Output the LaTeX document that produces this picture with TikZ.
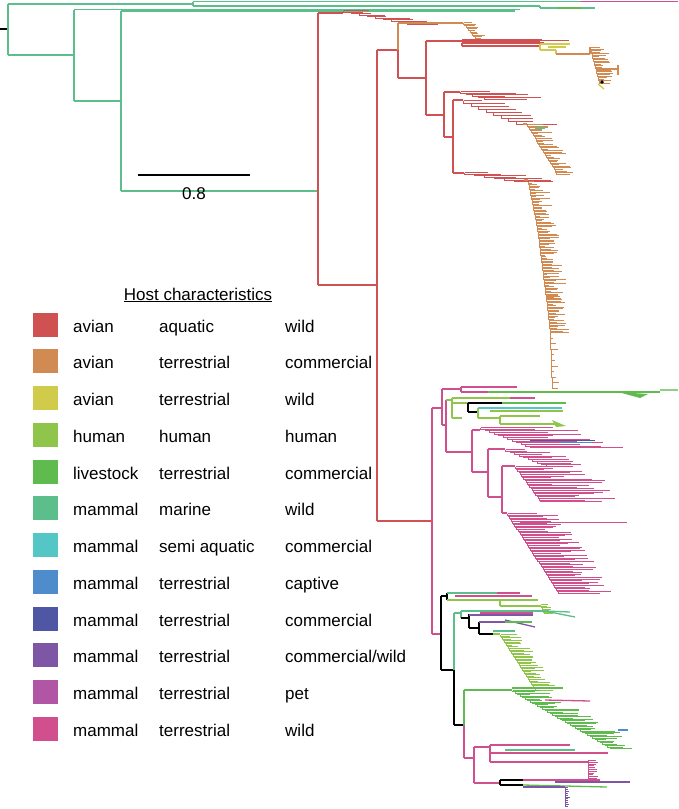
\documentclass[tikz,border=0pt]{standalone}
\usepackage{fontspec}
\newfontfamily\lgfont{Liberation Sans}
\definecolor{aaw}{HTML}{CF5151}
\definecolor{atc}{HTML}{D18A52}
\definecolor{atw}{HTML}{D1CB4C}
\definecolor{hum}{HTML}{90C54C}
\definecolor{lst}{HTML}{60BB4E}
\definecolor{mmw}{HTML}{5CBE8B}
\definecolor{msa}{HTML}{55C6C6}
\definecolor{mtc}{HTML}{4F8CCB}
\definecolor{mtm}{HTML}{4F56A4}
\definecolor{mtcw}{HTML}{7F55A6}
\definecolor{mtp}{HTML}{B155A5}
\definecolor{mtw}{HTML}{D14F8D}
\tikzset{
  br/.style={line width=1.3pt},
  cb/.style={line width=1pt},
  lt/.style={anchor=base west, inner sep=0pt, font={\lgfont\fontsize{17}{20}\selectfont}},
  sqbox/.style={minimum width=25pt, minimum height=24pt, inner sep=0pt, draw=none}
}
% caterpillar: x y steps dx dy minleaf maxleaf colour (snapped to pixel centres)
\newcommand\tcat[8]{%
  \foreach \kk in {1,...,#3}{%
    \pgfmathsetmacro\cpx{round(#1+(\kk-1)*#4)+0.5}%
    \pgfmathsetmacro\cnx{round(#1+\kk*#4)+0.5}%
    \pgfmathsetmacro\cpy{round(#2+(\kk-1)*#5)+0.5}%
    \pgfmathsetmacro\cny{round(#2+\kk*#5)+0.5}%
    \pgfmathsetmacro\clf{round(#6+(#7-#6)*rnd)}%
    \draw[cb,#8] (\cpx,\cpy) -- ++(\clf,0);
    \draw[cb,#8] (\cpx,\cpy) -- (\cpx,\cny) -- (\cnx,\cny);
  }%
  \pgfmathsetmacro\cpx{round(#1+#3*#4)+0.5}%
  \pgfmathsetmacro\cpy{round(#2+#3*#5)+0.5}%
  \pgfmathsetmacro\clf{round(#6+(#7-#6)*rnd)}%
  \draw[cb,#8] (\cpx,\cpy) -- ++(\clf,0);
}
% comb: x ytop ybot n minlen maxlen colour
\newcommand\tcomb[7]{%
  \draw[cb,#7] (#1,#2) -- (#1,#3);
  \foreach \kk in {0,...,#4}{%
    \pgfmathsetmacro\cpy{round(#2+(#3-#2)*\kk/#4)+0.5}%
    \pgfmathsetmacro\clf{round(#5+(#6-#5)*rnd)}%
    \draw[cb,#7] (#1,\cpy) -- ++(\clf,0);
  }%
}
\def\cwtext{commercial/wild}
\begin{document}
\begin{tikzpicture}[x=1pt,y=-1pt]
\useasboundingbox (0,0) rectangle (678,809);
\pgfmathsetseed{7}
% ---------- root and outgroups ----------
\draw[br,black] (0,29)--(8,29);
\draw[br,mmw] (8,4)--(8,55);
\draw[br,mmw] (8,4)--(193,4);
\draw[br,mmw] (193,1.5)--(193,6);
\draw[br,mmw] (193,1.5)--(580,1.5);
\draw[br,mtw!80!mtp] (580,1.5)--(678,1.5);
\draw[br,mmw] (193,6)--(540,6);
\draw[br,mmw] (540,6)--(540,8);
\draw[br,mmw] (540,8)--(595,8);
\draw[br,lst] (558,8)--(582,8);
\draw[br,mmw] (8,55)--(74,55);
\draw[br,mmw] (74,9.5)--(74,101);
\draw[br,mmw] (74,9.5)--(520,9.5);
\draw[br,mmw] (74,101)--(121,101);
\draw[br,mmw] (121,11)--(121,191);
\draw[br,mmw] (121,11)--(515,11);
\draw[br,mmw] (121,191)--(318,191);
% ---------- avian part ----------
\draw[br,aaw] (318,13)--(318,285);
\draw[br,aaw] (318,13)--(343,13);
\tcat{343}{10}{9}{8}{1.5}{8}{28}{aaw}
\draw[br,aaw] (318,285)--(377,285);
\draw[br,aaw] (377,50)--(377,521);
\draw[br,aaw] (377,50)--(398,50);
\draw[br,atc] (398,23)--(398,50);
\draw[br,aaw] (398,50)--(398,78);
\draw[br,atc] (398,23)--(463,23);
\tcat{463}{22}{10}{1.3}{1.6}{3}{16}{atc}
\draw[br,aaw] (398,78)--(426,78);
\draw[br,aaw] (426,41)--(426,115);
\draw[br,aaw] (426,41)--(462,41);
\tcomb{462}{39}{43}{4}{70}{115}{aaw}
\draw[br,aaw] (462,43)--(462,46);
\draw[br,aaw] (462,46)--(540,46);
\draw[br,atw] (540,44)--(540,50);
\draw[br,atw] (540,44)--(570,44);
\draw[br,atw] (540,50)--(556,50);
\draw[br,atw] (548,47)--(566,47);
\draw[br,atw] (556,50)--(556,54);
\draw[br,atc] (556,54)--(590,54);
\draw[br,atc] (590,47)--(590,54);
\tcat{590}{47}{24}{0.4}{1.5}{3}{16}{atc}
\draw[br,atc] (596,69)--(618,69);
\draw[br,atc] (618,65)--(618,75);
\fill[black] (602,82) circle (1.8);
\draw[br,atw] (598,84)--(604,89);
\draw[br,aaw] (426,115)--(444,115);
\draw[br,aaw] (444,92)--(444,137);
\draw[br,aaw] (444,92)--(460,92);
\tcat{460}{91}{5}{6}{1.5}{20}{57}{aaw}
\draw[br,aaw] (444,137)--(453,137);
\draw[br,aaw] (453,100)--(453,173);
\draw[br,aaw] (453,100)--(463,100);
\tcat{463}{100}{8}{7.5}{3}{15}{35}{aaw}
\draw[br,atc] (523,124)--(527,124);
\tcat{527}{124}{32}{0.95}{1.55}{4}{20}{atc}
\draw[br,mmw] (535,128)--(545,128);
\draw[br,aaw] (453,173)--(464,173);
\tcat{464}{172}{6}{10}{1.5}{20}{45}{aaw}
\draw[br,atc] (524,180)--(528,180);
\tcat{528}{181}{30}{0.3}{1.5}{3}{20}{atc}
\tcat{537}{226}{47}{0.19}{1.5}{3}{22}{atc}
\tcat{546}{296}{24}{0.17}{1.5}{4}{18}{atc}
\tcat{550}{332}{10}{0.2}{5.6}{1}{6}{atc}
% ---------- mammal part ----------
\draw[br,aaw] (377,521)--(432,521);
\draw[br,mtw] (432,408)--(432,634);
\draw[br,mtw] (432,408)--(442,408);
\draw[br,mtw] (442,389)--(442,425);
\draw[br,mtw] (442,389)--(461,389);
\draw[br,mtw] (461,387)--(461,392);
\draw[br,mtw] (461,387)--(517,387);
\draw[br,mtw] (461,392)--(488,392);
\draw[br,lst] (488,392)--(660,392);
\draw[br,lst!70!white] (660,390)--(678,390);
\fill[lst] (618,392)--(648,394)--(640,398)--cycle;
\draw[br,mtw] (442,425)--(446,425);
\draw[br,mtw] (446,400)--(446,452);
\draw[br,hum] (446,400)--(452,400);
\draw[br,hum] (452,398)--(452,418);
\draw[br,hum] (452,398)--(510,398);
\draw[br,mtw] (510,398)--(535,398);
\draw[br,hum] (452,403)--(468,403);
\draw[br,black] (468,403)--(468,412);
\draw[br,black] (468,403)--(502,403);
\draw[br,lst] (502,403)--(566,403);
\draw[br,black] (468,412)--(478,412);
\draw[br,hum] (478,408)--(478,418);
\draw[br,msa] (478,408)--(562,408);
\draw[br,hum] (490,411)--(563,411);
\draw[br,hum] (478,418)--(500,418);
\draw[br,hum] (500,416)--(500,424);
\draw[br,hum] (500,416)--(540,416);
\draw[br,hum] (500,424)--(560,424);
\fill[hum] (552,420)--(566,426)--(556,427)--cycle;
\draw[br,hum] (452,418)--(462,418);
% pink mass
\draw[br,mtw] (446,452)--(472,452);
\draw[br,mtw] (472,430)--(472,472);
\draw[br,mtw] (472,430)--(480,430);
\tcat{480}{427}{12}{4.5}{1.7}{40}{90}{mtw}
\draw[cb,mtm] (530,440.5)--(595,440.5);
\draw[cb,mtc] (560,442.5)--(592,442.5);
\draw[br,mtw] (472,472)--(488,472);
\draw[br,mtw] (488,449)--(488,497);
\draw[br,mtw] (488,449)--(505,449);
\tcat{505}{449}{10}{4.5}{1.7}{15}{45}{mtw}
\draw[br,mtw] (488,497)--(502,497);
\draw[br,mtw] (502,466)--(502,513);
\draw[br,mtw] (502,466)--(515,466);
\tcat{515}{466}{22}{1.2}{1.6}{20}{80}{mtw}
\draw[br,mtw] (502,513)--(507,513);
\tcat{507}{513}{50}{1.05}{1.6}{25}{55}{mtw}
\draw[cb,mtw] (520,522.5)--(627,522.5);
% lower mammal part
\draw[br,mtw] (432,634)--(441,634);
\draw[br,black] (441,596)--(441,670);
\draw[br,black] (441,596)--(447,596);
\draw[br,black] (447,593)--(447,600);
\draw[br,mmw] (447,593)--(517,593);
\draw[br,mtw] (497,593)--(520,593);
\draw[br,mtw] (455,596)--(532,596);
\draw[br,hum] (447,600)--(500,600);
\draw[br,hum] (500,600)--(500,606);
\draw[br,hum] (500,600)--(538,600);
\draw[br,hum] (500,606)--(540,606);
\tcat{540}{604}{6}{0.8}{1.5}{3}{8}{hum}
\draw[br,black] (441,670)--(454,670);
\draw[br,mmw] (454,613)--(454,670);
\draw[br,black] (454,670)--(454,725);
\draw[br,mmw] (454,613)--(461,613);
\draw[br,mmw] (461,611)--(461,618);
\draw[br,mmw] (461,611)--(545,611);
\draw[br,mmw] (545,611)--(575,617);
\draw[br,mmw] (545,611)--(570,612);
\draw[br,mtw] (480,613)--(533,613);
\draw[br,black] (461,618)--(469,618);
\draw[br,black] (469,614)--(469,628);
\draw[br,mtcw] (469,615)--(533,615);
\draw[br,black] (469,628)--(479,628);
\draw[br,black] (479,622)--(479,634);
\draw[br,mtcw] (479,622)--(505,622);
\draw[br,mtcw] (505,620)--(535,627);
\draw[br,lst] (505,622)--(532,622);
\draw[br,black] (479,634)--(493,634);
\draw[br,mmw] (493,631)--(515,631);
\draw[br,hum] (493,634)--(500,634);
\tcat{500}{634}{36}{1}{1.55}{4}{22}{hum}
% livestock
\draw[br,black] (454,725)--(464,725);
\draw[br,lst] (464,690)--(464,725);
\draw[br,mtw] (464,725)--(464,758);
\draw[br,lst] (464,690)--(512,690);
\draw[br,lst] (512,688)--(563,688);
\tcat{512}{690}{40}{2.5}{1.45}{8}{35}{lst}
\draw[br,mtw] (545,700)--(590,701);
\draw[br,mtc] (618,730)--(628,730);
% bottom pink
\draw[br,mtw] (464,758)--(474,758);
\draw[br,mtw] (474,747)--(474,783);
\draw[br,mtw] (474,747)--(490,747);
\draw[br,mtw] (490,745)--(490,762);
\draw[br,mtw] (490,745)--(570,745);
\draw[br,mmw] (505,750)--(575,750);
\draw[br,mtw] (490,753)--(608,753);
\draw[br,mtw] (490,762)--(570,762);
\tcomb{588}{760}{778}{10}{4}{14}{mtw}
\draw[br,mtw] (570,762)--(588,762);
\draw[br,mtw] (474,783)--(500,783);
\draw[br,black] (500,780)--(500,785);
\draw[br,black] (500,780)--(523,780);
\draw[br,mtw] (523,780)--(600,780);
\draw[br,black] (500,785)--(523,785);
\draw[br,lst] (523,785)--(607,787);
\draw[br,mtcw] (555,782)--(630,782);
\draw[br,mtcw] (523,787)--(565,787);
\tcomb{565}{787}{806}{10}{2}{7}{mtcw}
% ---------- scale bar ----------
\coordinate (sbA) at (138,175);
\coordinate (sbB) at (250,175);
\draw[line width=1.3pt] (sbA)--(sbB);
\node[lt, anchor=base] (sbl) at (194,199) {0.8};
% ---------- legend ----------
\node[lt, anchor=base] (ttl) at (198,300) {\underline{Host characteristics}};
\foreach \c/\a/\b/\d [count=\i from 0] in {
  aaw/avian/aquatic/wild,
  atc/avian/terrestrial/commercial,
  atw/avian/terrestrial/wild,
  hum/human/human/human,
  lst/livestock/terrestrial/commercial,
  mmw/mammal/marine/wild,
  msa/mammal/semi aquatic/commercial,
  mtc/mammal/terrestrial/captive,
  mtm/mammal/terrestrial/commercial,
  mtcw/mammal/terrestrial/\cwtext,
  mtp/mammal/terrestrial/pet,
  mtw/mammal/terrestrial/wild}{
  \pgfmathsetmacro\yc{324.5+36.75*\i}
  \node[sqbox, fill=\c] (sq\i) at (45.5,\yc) {};
  \node[lt] (ca\i) at (73,\yc+7.5) {\a};
  \node[lt] (cb\i) at (159,\yc+7.5) {\b};
  \node[lt] (cc\i) at (285,\yc+7.5) {\d};
}
\end{tikzpicture}
\end{document}
